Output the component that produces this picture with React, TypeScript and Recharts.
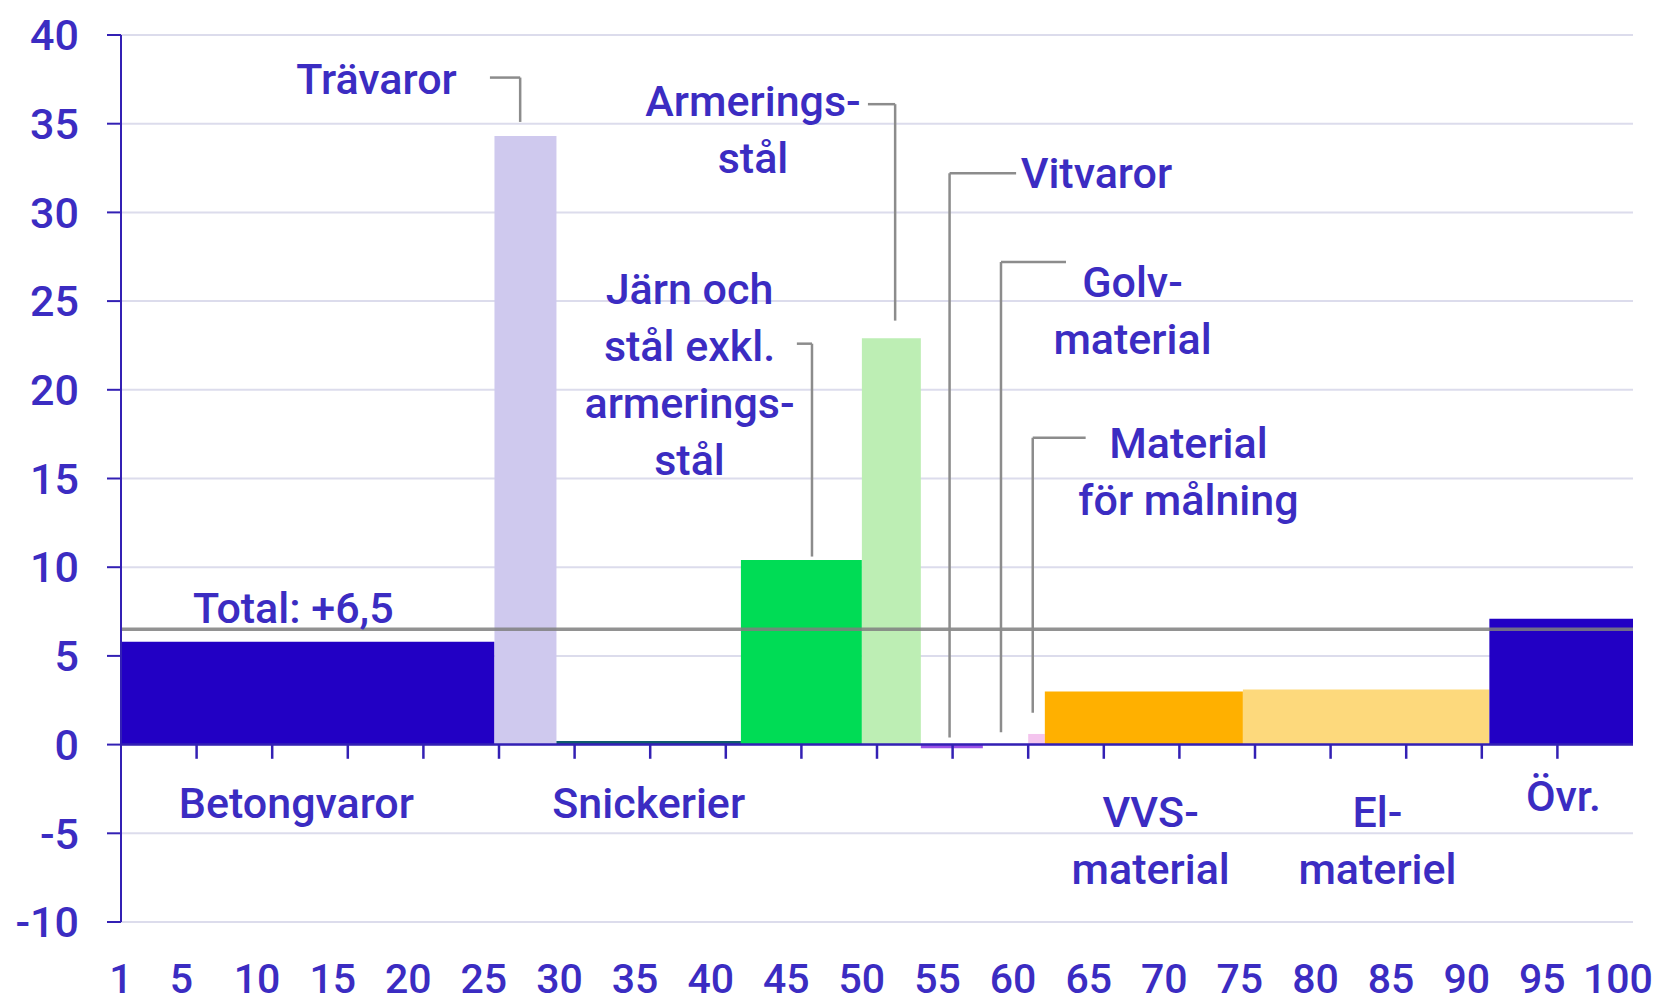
import React from 'react';
import { ComposedChart, Area, XAxis, YAxis, CartesianGrid, ReferenceLine, ReferenceDot } from 'recharts';

// Price change per material group, bar width = weight in the index (sums to 100)
const categories = [
  'Betongvaror',
  'Trävaror',
  'Snickerier',
  'Järn och stål exkl. armeringsstål',
  'Armeringsstål',
  'Vitvaror',
  'Golvmaterial',
  'Material för målning',
  'VVS-material',
  'El-materiel',
  'Övr.',
];
const weights = [24.7, 4.1, 12.2, 8.0, 3.9, 4.1, 3.0, 1.1, 13.1, 16.3, 9.5];
const changes = [5.8, 34.3, 0.2, 10.4, 22.9, -0.2, 0.0, 0.6, 3.0, 3.1, 7.1];
const COLORS = [
  '#2200c4', '#cfc9ee', '#0e5a6e', '#00dc55', '#bdeeb4', '#9a52e8',
  '#d9d9d9', '#f4c4ee', '#ffb000', '#fdd97c', '#2200c4',
];
const total = 6.5;

const yTicks = [-10, -5, 0, 5, 10, 15, 20, 25, 30, 35, 40];
const xTickLabels = [1, 5, 10, 15, 20, 25, 30, 35, 40, 45, 50, 55, 60, 65, 70, 75, 80, 85, 90, 95, 100];
const xTickMarks = [5, 10, 15, 20, 25, 30, 35, 40, 45, 50, 55, 60, 65, 70, 75, 80, 85, 90, 95];

const TEXT = '#3b2cc2';
const AXIS = '#3320b4';
const LEADER = '#8c8c8c';
const FONT = 'Roboto, "Noto Sans", sans-serif';
const FS = 43;
const FW = 500;

// label text placed in chart units
const labels = [
  { lines: ['Trävaror'], x: 16.9, y: 37.5, anchor: 'middle' },
  { lines: ['Armerings-', 'stål'], x: 41.8, y: 36.3, anchor: 'middle' },
  { lines: ['Järn och', 'stål exkl.', 'armerings-', 'stål'], x: 37.6, y: 25.7, anchor: 'middle' },
  { lines: ['Vitvaror'], x: 59.5, y: 32.2, anchor: 'start' },
  { lines: ['Golv-', 'material'], x: 66.9, y: 26.1, anchor: 'middle' },
  { lines: ['Material', 'för målning'], x: 70.6, y: 17.0, anchor: 'middle' },
  { lines: ['Total: +6,5'], x: 11.4, y: 7.7, anchor: 'middle' },
  { lines: ['Betongvaror'], x: 11.6, y: -3.3, anchor: 'middle' },
  { lines: ['Snickerier'], x: 34.9, y: -3.3, anchor: 'middle' },
  { lines: ['VVS-', 'material'], x: 68.1, y: -3.8, anchor: 'middle' },
  { lines: ['El-', 'materiel'], x: 83.1, y: -3.8, anchor: 'middle' },
  { lines: ['Övr.'], x: 95.4, y: -2.9, anchor: 'middle' },
];

const leaders = [
  [[24.4, 37.6], [26.4, 37.6], [26.4, 35.1]],
  [[49.4, 36.1], [51.2, 36.1], [51.2, 23.9]],
  [[44.7, 22.6], [45.7, 22.6], [45.7, 10.6]],
  [[59.2, 32.2], [54.8, 32.2], [54.8, 0.4]],
  [[62.5, 27.2], [58.2, 27.2], [58.2, 0.7]],
  [[63.8, 17.3], [60.3, 17.3], [60.3, 1.8]],
];

const bars = categories.map((name, i) => {
  const start = weights.slice(0, i).reduce((a, b) => a + b, 0);
  const end = start + weights[i];
  return { name, color: COLORS[i], data: [{ x: start, v: changes[i] }, { x: end, v: changes[i] }] };
});

const makeText = (lines: string[], anchor: string) => (props: any) => (
  <text
    x={props.cx}
    y={props.cy}
    textAnchor={anchor}
    dominantBaseline="central"
    fill={TEXT}
    fontSize={FS}
    fontWeight={FW}
    fontFamily={FONT}
  >
    {lines.map((l, k) => (
      <tspan key={k} x={props.cx} dy={k === 0 ? 0 : 57}>{l}</tspan>
    ))}
  </text>
);

const XTick = (props: any) => (
  <text x={props.x} y={props.y + 57} textAnchor="middle" dominantBaseline="central" fill={TEXT} fontSize={41} fontWeight={FW} fontFamily={FONT}>
    {props.payload.value + 1}
  </text>
);

export default function App() {
  return (
    <div style={{ position: 'absolute', left: 0, top: 0, background: '#fff' }}>
      <ComposedChart width={1675} height={1005} margin={{ top: 35, right: 42, bottom: 0, left: 0 }}>
        <CartesianGrid horizontal vertical={false} stroke="#dcdcec" strokeWidth={2} />
        <XAxis
          dataKey="x"
          type="number"
          domain={[0, 100]}
          ticks={xTickLabels.map(v => v - 1)}
          interval={0}
          axisLine={false}
          tickLine={false}
          tickSize={0}
          tickMargin={0}
          height={83}
          tick={<XTick />}
          allowDataOverflow
        />
        <YAxis
          type="number"
          domain={[-10, 40]}
          ticks={yTicks}
          interval={0}
          width={121}
          axisLine={{ stroke: AXIS, strokeWidth: 2 }}
          tickLine={{ stroke: AXIS, strokeWidth: 2 }}
          tickSize={14}
          tickMargin={28}
          tick={{ fill: TEXT, fontSize: FS, fontWeight: FW, fontFamily: FONT }}
          allowDataOverflow
        />
        {bars.map(b => (
          <Area
            key={b.name}
            name={b.name}
            data={b.data}
            dataKey="v"
            type="linear"
            baseValue={0}
            stroke="none"
            fill={b.color}
            fillOpacity={1}
            isAnimationActive={false}
            activeDot={false}
            dot={false}
          />
        ))}
        <ReferenceLine y={total} stroke="#7f7f7f" strokeWidth={3.5} strokeOpacity={0.85} />
        <ReferenceLine y={0} stroke={AXIS} strokeWidth={2.5} />
        {xTickMarks.map(t => (
          <ReferenceLine key={'t' + t} segment={[{ x: t, y: 0 }, { x: t, y: -0.8 }]} stroke={AXIS} strokeWidth={2.5} />
        ))}
        {leaders.map((pts, i) => (
          <React.Fragment key={'l' + i}>
            <ReferenceLine segment={[{ x: pts[0][0], y: pts[0][1] }, { x: pts[1][0], y: pts[1][1] }]} stroke={LEADER} strokeWidth={2.5} />
            <ReferenceLine segment={[{ x: pts[1][0], y: pts[1][1] }, { x: pts[2][0], y: pts[2][1] }]} stroke={LEADER} strokeWidth={2.5} />
          </React.Fragment>
        ))}
        {labels.map((lb, i) => (
          <ReferenceDot key={'d' + i} x={lb.x} y={lb.y} r={0} shape={makeText(lb.lines, lb.anchor)} />
        ))}
      </ComposedChart>
    </div>
  );
}
